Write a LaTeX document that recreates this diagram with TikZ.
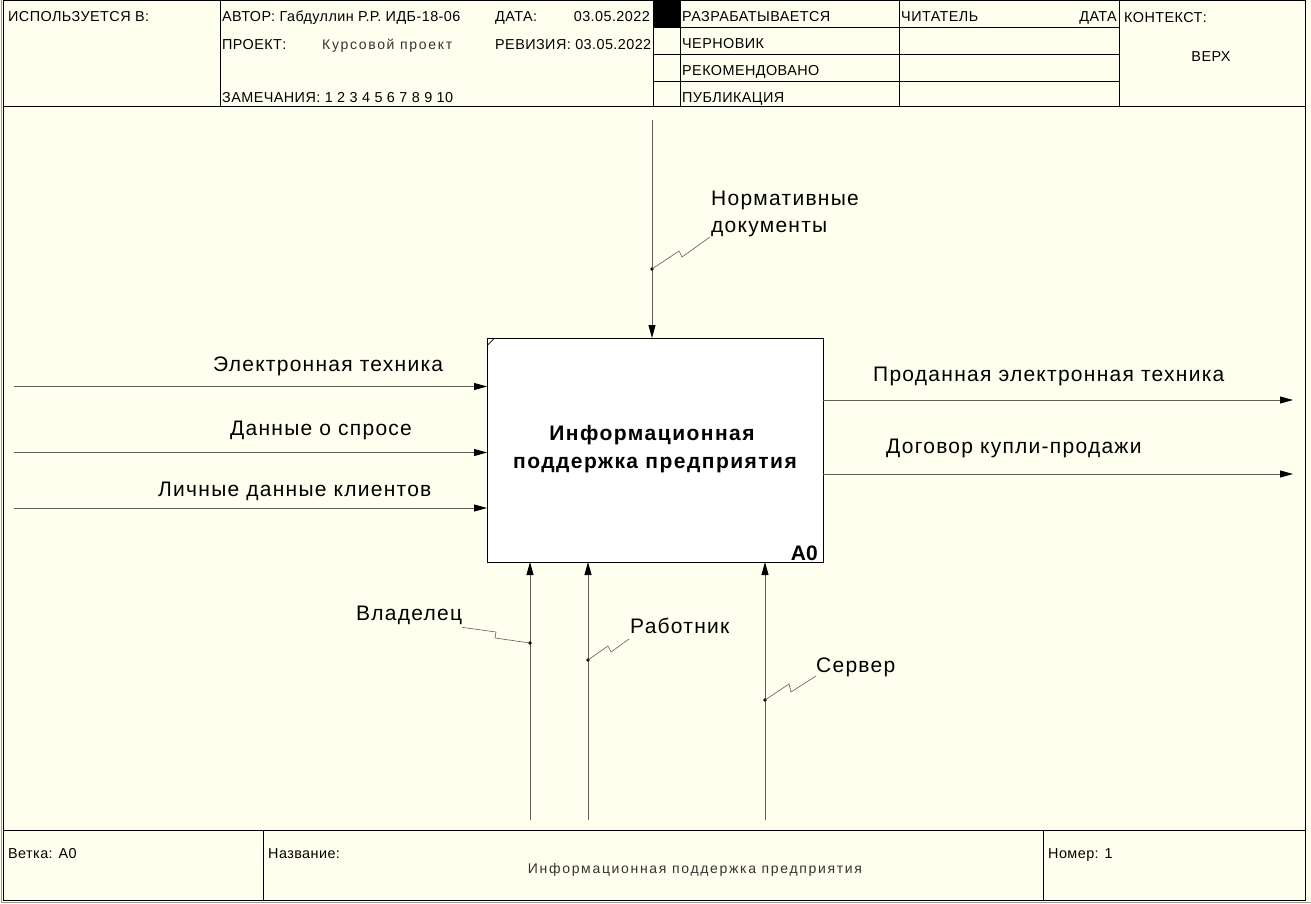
\documentclass[tikz,border=0pt]{standalone}
\usepackage{fontspec}
\setmainfont{Liberation Sans}
\newfontfamily\hdrfont[LetterSpace=3]{Liberation Sans}
\newfontfamily\thinfont[LetterSpace=12]{Liberation Sans}
\newfontfamily\lblfont[LetterSpace=6]{Liberation Sans}
\newfontfamily\ttlfont[LetterSpace=7]{Liberation Sans}
\usetikzlibrary{arrows.meta}
\definecolor{paper}{HTML}{FFFFF0}
\definecolor{wire}{HTML}{5E5E55}
\definecolor{edge}{HTML}{9A9A9A}
\tikzset{
  rule/.style={draw=black, line width=1pt},
  hdr/.style={font=\hdrfont\fontsize{14.4}{16}\selectfont, inner sep=0pt, anchor=base west},
  thin text/.style={font=\thinfont\fontsize{14}{16}\selectfont, text=black!80, inner sep=0pt},
  lbl/.style={font=\lblfont\fontsize{21}{24}\selectfont, inner sep=0pt, anchor=base west},
  wire/.style={draw=wire, line width=0.9pt},
  flow/.style={wire, -{Triangle[length=13pt,width=7pt,color=black]}},
  squig/.style={draw=wire, line width=0.6pt},
  tap/.style={circle, fill=black, inner sep=0pt, minimum size=3.6pt},
  actbox/.style={draw=black, fill=white, line width=1pt, inner sep=0pt, outer sep=0pt,
    minimum width=336pt, minimum height=224pt, anchor=north west}
}
\begin{document}
\begin{tikzpicture}[x=1pt, y=-1pt]
\useasboundingbox (0,0) rectangle (1311,904);
\fill[paper] (0,0) rectangle (1311,904);

% outer frame
\draw[edge, line width=1pt] (1,0) -- (1,902.5) -- (1311,902.5);
\draw[rule] (3.5,0.5) rectangle (1305,900);

% header grid
\draw[rule] (3.5,107) -- (1305,107);
\foreach \xx in {220,653,680,899,1119} \draw[rule] (\xx,0) -- (\xx,107);
\foreach \yy in {28,55,82} \draw[rule] (653,\yy) -- (1119,\yy);
\fill[black] (653,0) rectangle (680,27.5);

% header texts
\node[hdr] (used) at (8,22) {ИСПОЛЬЗУЕТСЯ В:};
\node[hdr] (author) at (222,22) {АВТОР: Габдуллин Р.Р. ИДБ-18-06};
\node[hdr] (datek) at (495,22) {ДАТА:};
\node[hdr, anchor=base east] (datev) at (650,22) {03.05.2022};
\node[hdr] (proj) at (222,50) {ПРОЕКТ:};
\node[thin text, anchor=base west] (projv) at (322,50) {Курсовой проект};
\node[hdr] (rev) at (495,50) {РЕВИЗИЯ: 03.05.2022};
\node[hdr] (notes) at (222,103) {ЗАМЕЧАНИЯ: 1 2 3 4 5 6 7 8 9 10};
\node[hdr] (st1) at (682,22) {РАЗРАБАТЫВАЕТСЯ};
\node[hdr] (st2) at (682,49) {ЧЕРНОВИК};
\node[hdr] (st3) at (682,76) {РЕКОМЕНДОВАНО};
\node[hdr] (st4) at (682,103) {ПУБЛИКАЦИЯ};
\node[hdr] (reader) at (901,22) {ЧИТАТЕЛЬ};
\node[hdr, anchor=base east] (rdate) at (1117,22) {ДАТА};
\node[hdr] (ctx) at (1124,23) {КОНТЕКСТ:};
\node[hdr, anchor=base] (top) at (1211,62) {ВЕРХ};

% footer grid
\draw[rule] (3.5,830) -- (1305,830);
\draw[rule] (263,830) -- (263,900);
\draw[rule] (1043,830) -- (1043,900);
\node[hdr] (node) at (8,858) {Ветка: А0};
\node[hdr] (titlek) at (268,858) {Название:};
\node[thin text, anchor=base] (titlev) at (695,873) {Информационная поддержка предприятия};
\node[hdr] (num) at (1048,858) {Номер: 1};

% activity box
\node[actbox] (a0) at (487,338) {};
\draw[line width=0.7pt] (487.5,345) -- (494,338.5);
\node[font=\ttlfont\bfseries\fontsize{21}{24}\selectfont, inner sep=0pt, anchor=base] (t1) at (652,440) {Информационная};
\node[font=\ttlfont\bfseries\fontsize{21}{24}\selectfont, inner sep=0pt, anchor=base] (t2) at (655,468) {поддержка предприятия};
\node[font=\bfseries\fontsize{21}{24}\selectfont, inner sep=0pt, anchor=base east] (id) at (818,560) {A0};

% inputs
\coordinate (i1) at (14,386.5);
\coordinate (i2) at (14,452.5);
\coordinate (i3) at (14,508);
\draw[flow] (i1) -- (i1 -| a0.west);
\draw[flow] (i2) -- (i2 -| a0.west);
\draw[flow] (i3) -- (i3 -| a0.west);
\node[lbl] (li1) at (213,371) {Электронная техника};
\node[lbl] (li2) at (230,435) {Данные о спросе};
\node[lbl] (li3) at (158,496) {Личные данные клиентов};

% outputs
\coordinate (o1) at (1293,400);
\coordinate (o2) at (1293,474);
\draw[flow] (o1 -| a0.east) -- (o1);
\draw[flow] (o2 -| a0.east) -- (o2);
\node[lbl] (lo1) at (873,381) {Проданная электронная техника};
\node[lbl] (lo2) at (886,453) {Договор купли-продажи};

% control
\coordinate (c1) at (652,120);
\draw[flow] (c1) -- (c1 |- a0.north);
\node[lbl] (lc1a) at (711,205) {Нормативные};
\node[lbl] (lc1b) at (711,233) {документы};
\node[tap] (pc1) at (652,269) {};
\draw[squig] (pc1.center) -- (679,251) -- (682,257) -- (710,237);

% mechanisms
\coordinate (m1) at (530,820);
\coordinate (m2) at (588,820);
\coordinate (m3) at (765,820);
\draw[flow] (m1) -- (m1 |- a0.south);
\draw[flow] (m2) -- (m2 |- a0.south);
\draw[flow] (m3) -- (m3 |- a0.south);
\node[lbl] (lm1) at (356,620) {Владелец};
\node[lbl] (lm2) at (630,633) {Работник};
\node[lbl] (lm3) at (816,672) {Сервер};
\node[tap] (pm1) at (530,643) {};
\node[tap] (pm2) at (588,660) {};
\node[tap] (pm3) at (765,700) {};
\draw[squig] (lm1.south east) ++(0,3) -- (496,632) -- (495,638) -- (pm1.center);
\draw[squig] (pm2.center) -- (608,646) -- (611,652) -- (629,639);
\draw[squig] (pm3.center) -- (789,684) -- (791,692) -- (816,676);
\end{tikzpicture}
\end{document}
